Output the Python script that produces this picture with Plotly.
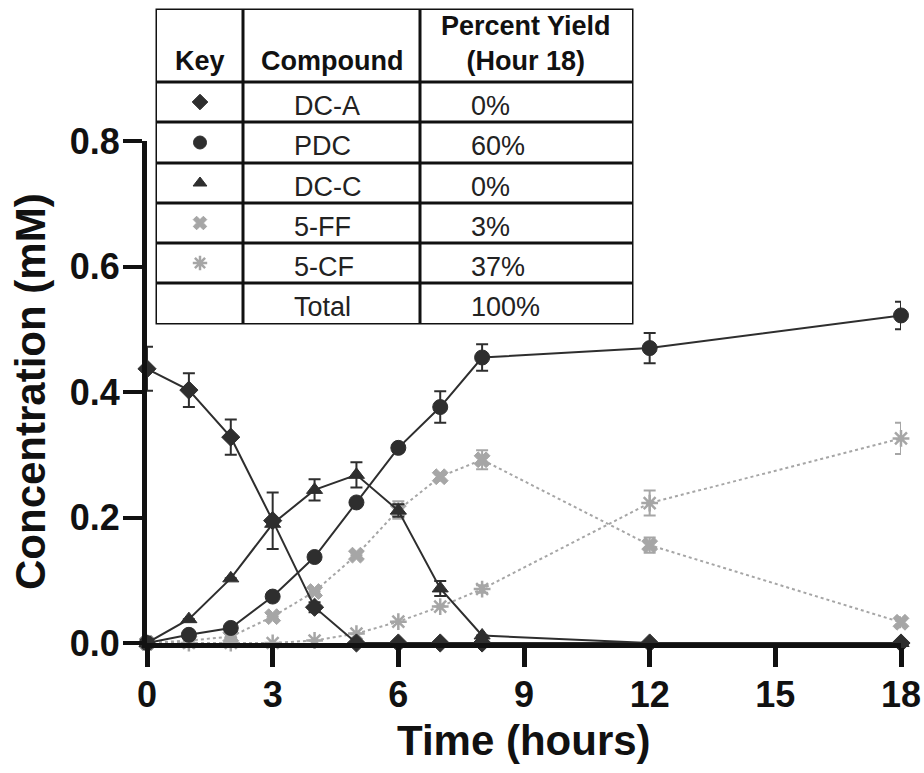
import plotly.graph_objects as go

# ---------------- data ----------------
time_h = [0, 1, 2, 3, 4, 5, 6, 7, 8, 12, 18]

dc_a = [0.437, 0.403, 0.328, 0.195, 0.057, 0.0, 0.0, 0.0, 0.0, 0.0, 0.0]
dc_a_err = [0.035, 0.027, 0.028, 0.045, 0.008, 0, 0, 0, 0, 0, 0]

pdc = [0.0, 0.013, 0.024, 0.074, 0.137, 0.224, 0.311, 0.376, 0.455, 0.470, 0.522]
pdc_err = [0, 0, 0, 0, 0, 0, 0.006, 0.025, 0.021, 0.024, 0.022]

dc_c = [0.0, 0.038, 0.103, 0.190, 0.244, 0.268, 0.211, 0.087, 0.012, 0.0, 0.0]
dc_c_err = [0, 0, 0, 0, 0.017, 0.020, 0.010, 0.012, 0, 0, 0]

ff5 = [0.0, 0.004, 0.010, 0.042, 0.082, 0.140, 0.212, 0.265, 0.292, 0.156, 0.033]
ff5_err = [0, 0, 0, 0, 0, 0, 0.014, 0.006, 0.015, 0.012, 0.008]

cf5 = [0.0, 0.0, 0.0, 0.0, 0.004, 0.015, 0.034, 0.058, 0.086, 0.223, 0.326]
cf5_err = [0, 0, 0, 0, 0, 0, 0, 0, 0.006, 0.020, 0.025]

key_compounds = ["DC-A", "PDC", "DC-C", "5-FF", "5-CF", "Total"]
key_yields = ["0%", "60%", "0%", "3%", "37%", "100%"]
table_headers = ["Key", "Compound", "Percent Yield<br>(Hour 18)"]

x_ticks = [0, 3, 6, 9, 12, 15, 18]
y_ticks = [0.0, 0.2, 0.4, 0.6, 0.8]

x_title = "Time (hours)"
y_title = "Concentration (mM)"

# ---------------- styling ----------------
W, H = 924, 773
FONT = "Liberation Sans, Arial, sans-serif"
DARK = "#2e2e2e"
LIGHT = "#a6a6a6"


def px(x):
    """page pixel x -> paper fraction"""
    return x / W


def py(y):
    """page pixel y -> paper fraction"""
    return 1 - y / H


series = [
    # name, values, errors, symbol, size, color, dash
    ("5-CF", cf5, cf5_err, "asterisk-open", 14, LIGHT, "dot"),
    ("5-FF", ff5, ff5_err, "x", 14, LIGHT, "dot"),
    ("DC-C", dc_c, dc_c_err, "triangle-up", 14, DARK, "solid"),
    ("PDC", pdc, pdc_err, "circle", 15, DARK, "solid"),
    ("DC-A", dc_a, dc_a_err, "diamond", 14, DARK, "solid"),
]

fig = go.Figure()

for name, vals, errs, sym, size, col, dash in series:
    open_sym = sym.endswith("open")
    fig.add_trace(go.Scatter(
        x=time_h, y=vals, name=name, mode="lines+markers",
        line=dict(color=col, width=2, dash=dash),
        marker=dict(symbol=sym, size=size, color=col,
                    line=dict(color=col, width=2.5 if open_sym else 1)),
        error_y=dict(type="data", array=errs, visible=True, color=col,
                     thickness=2, width=6),
        cliponaxis=False, showlegend=False,
    ))

# ---------------- table (key) ----------------
tbl_left, tbl_right = 157, 632
col_lines = [157, 243, 420, 632]
row_lines = [10, 82, 122, 163, 203, 243, 283, 323]

shapes = []
shapes.append(dict(type="rect", xref="paper", yref="paper",
                   x0=px(tbl_left), x1=px(tbl_right), y0=py(row_lines[-1]), y1=py(row_lines[0]),
                   fillcolor="white", line=dict(color="#111", width=3), layer="below"))
for xl in col_lines[1:-1]:
    shapes.append(dict(type="line", xref="paper", yref="paper",
                       x0=px(xl), x1=px(xl), y0=py(row_lines[0]), y1=py(row_lines[-1]),
                       line=dict(color="#111", width=3)))
for yl in row_lines[1:-1]:
    shapes.append(dict(type="line", xref="paper", yref="paper",
                       x0=px(tbl_left), x1=px(tbl_right), y0=py(yl), y1=py(yl),
                       line=dict(color="#111", width=3)))

annotations = []
# headers
hdr_x = [(col_lines[i] + col_lines[i + 1]) / 2 for i in range(3)]
for i, htxt in enumerate(table_headers):
    annotations.append(dict(x=px(hdr_x[i]), y=py(row_lines[1] - 4), xref="paper", yref="paper",
                            text=htxt, showarrow=False, xanchor="center", yanchor="bottom",
                            font=dict(family=FONT, size=27, color="#111", weight="bold")))
# body
for k, (cmp, yld) in enumerate(zip(key_compounds, key_yields)):
    yc = (row_lines[k + 1] + row_lines[k + 2]) / 2 + 4
    annotations.append(dict(x=px(292), y=py(yc), xref="paper", yref="paper", text=cmp,
                            showarrow=False, xanchor="left", yanchor="middle",
                            font=dict(family=FONT, size=27, color="#222")))
    annotations.append(dict(x=px(469), y=py(yc), xref="paper", yref="paper", text=yld,
                            showarrow=False, xanchor="left", yanchor="middle",
                            font=dict(family=FONT, size=27, color="#222")))

# key markers on an overlay axis in table pixel space
key_series = {s[0]: s for s in series}
for k, cmp in enumerate(key_compounds[:5]):
    name, vals, errs, sym, size, col, dash = key_series[cmp]
    yc = (row_lines[k + 1] + row_lines[k + 2]) / 2
    open_sym = sym.endswith("open")
    fig.add_trace(go.Scatter(
        x=[200], y=[yc], xaxis="x2", yaxis="y2", mode="markers",
        marker=dict(symbol=sym, size=size - 2, color=col,
                    line=dict(color=col, width=2.5 if open_sym else 1)),
        showlegend=False, hoverinfo="skip",
    ))

# axis titles
annotations.append(dict(x=px(524), y=py(740), xref="paper", yref="paper", text=x_title,
                        showarrow=False, xanchor="center", yanchor="middle",
                        font=dict(family=FONT, size=42, color="#111", weight="bold")))
annotations.append(dict(x=px(30), y=py(392), xref="paper", yref="paper", text=y_title,
                        showarrow=False, xanchor="center", yanchor="middle", textangle=-90,
                        font=dict(family=FONT, size=42, color="#111", weight="bold")))

fig.update_layout(
    width=W, height=H,
    margin=dict(l=0, r=0, t=0, b=0),
    paper_bgcolor="white", plot_bgcolor="white",
    shapes=shapes, annotations=annotations,
    xaxis=dict(domain=[px(147), px(901)], range=[0, 18], tickvals=x_ticks,
               showgrid=False, zeroline=False, showline=True, linecolor="#111", linewidth=5,
               ticks="outside", ticklen=19, tickwidth=5, tickcolor="#111",
               tickfont=dict(family=FONT, size=36, color="#111", weight="bold"),
               ticklabelstandoff=-3, ticklabeloverflow="allow", automargin=False),
    yaxis=dict(domain=[py(643), py(141)], range=[0, 0.8], tickvals=y_ticks, tickformat=".1f",
               showgrid=False, zeroline=False, showline=True, linecolor="#111", linewidth=5,
               ticks="outside", ticklen=19, tickwidth=4, tickcolor="#111",
               tickfont=dict(family=FONT, size=36, color="#111", weight="bold"),
               ticklabelstandoff=-4, automargin=False),
    xaxis2=dict(domain=[px(tbl_left), px(tbl_right)], range=[tbl_left, tbl_right], visible=False,
                fixedrange=True),
    yaxis2=dict(domain=[py(row_lines[-1]), py(row_lines[0])], range=[row_lines[-1], row_lines[0]],
                visible=False, fixedrange=True),
)

# remove the page's default body margin so the figure fills the window exactly
fig.write_html("out.html", config={"displayModeBar": False},
               post_script="document.body.style.margin='0px';"
                           "document.body.style.overflow='hidden';")
